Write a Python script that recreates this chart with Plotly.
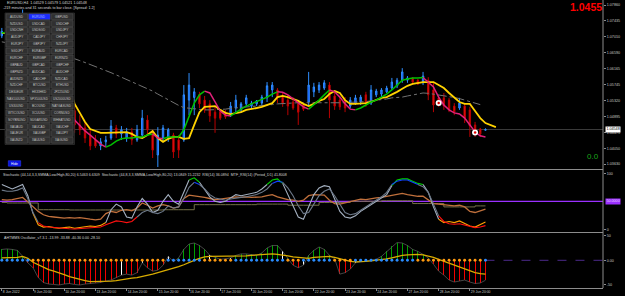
import plotly.graph_objects as go

# ---------------- DATA (EURUSD H4, 8 Jun 20:00 -> 30 Jun 08:00) ----------------
opens = [1.0704, 1.0716, 1.0706, 1.0712, 1.0735, 1.0745, 1.0660, 1.0620, 1.0625, 1.0630,
         1.0605, 1.0590, 1.0525, 1.0518, 1.0505, 1.0467, 1.0459, 1.0438, 1.0427, 1.0411,
         1.0422, 1.0432, 1.0459, 1.0443, 1.0432, 1.0448, 1.0427, 1.0440, 1.0480, 1.0448,
         1.0387, 1.0432, 1.0432, 1.0440, 1.0427, 1.0427, 1.0533, 1.0540, 1.0547, 1.0533,
         1.0523, 1.0501, 1.0501, 1.0501, 1.0493, 1.0512, 1.0507, 1.0523, 1.0517, 1.0523,
         1.0525, 1.0539, 1.0560, 1.0560, 1.0544, 1.0533, 1.0528, 1.0523, 1.0520, 1.0528,
         1.0555, 1.0560, 1.0565, 1.0573, 1.0544, 1.0533, 1.0533, 1.0517, 1.0525, 1.0528,
         1.0547, 1.0525, 1.0547, 1.0549, 1.0555, 1.0565, 1.0571, 1.0586, 1.0586, 1.0592,
         1.0586, 1.0579, 1.0586, 1.0560, 1.0539, 1.0539, 1.0533, 1.0517, 1.0512, 1.0517,
         1.0507, 1.0467, 1.0456, 1.04529]
highs = [1.0725, 1.0722, 1.0718, 1.0740, 1.0774, 1.0760, 1.0670, 1.0635, 1.0640, 1.0640,
         1.0620, 1.0600, 1.0545, 1.0525, 1.0525, 1.0493, 1.0472, 1.0454, 1.0440, 1.0432,
         1.0438, 1.0480, 1.0467, 1.0464, 1.0459, 1.0459, 1.0467, 1.0507, 1.0493, 1.0454,
         1.0461, 1.0467, 1.0459, 1.0446, 1.0440, 1.0573, 1.0605, 1.0565, 1.0555, 1.0544,
         1.0533, 1.0515, 1.0507, 1.0507, 1.0528, 1.0547, 1.0528, 1.0547, 1.0531, 1.0533,
         1.0547, 1.0581, 1.0581, 1.0565, 1.0552, 1.0547, 1.0541, 1.0533, 1.0523, 1.0608,
         1.0579, 1.0581, 1.0586, 1.0581, 1.0555, 1.0541, 1.0541, 1.0541, 1.0547, 1.0547,
         1.0555, 1.0573, 1.0563, 1.0565, 1.0571, 1.0592, 1.0592, 1.0618, 1.0597, 1.0594,
         1.0589, 1.0608, 1.0594, 1.0579, 1.0544, 1.0552, 1.0539, 1.0525, 1.0539, 1.0525,
         1.0515, 1.0475, 1.0459, 1.04579]
lows = [1.0698, 1.0700, 1.0698, 1.0705, 1.0700, 1.0650, 1.0615, 1.0610, 1.0615, 1.0595,
        1.0580, 1.0506, 1.0510, 1.0500, 1.0446, 1.0440, 1.0419, 1.0400, 1.0406, 1.0400,
        1.0411, 1.0427, 1.0432, 1.0427, 1.0422, 1.0414, 1.0422, 1.0432, 1.0440, 1.0379,
        1.0355, 1.0422, 1.0422, 1.0379, 1.0379, 1.0422, 1.0493, 1.0493, 1.0512, 1.0499,
        1.0475, 1.0446, 1.0480, 1.0483, 1.0488, 1.0501, 1.0499, 1.0515, 1.0512, 1.0517,
        1.0517, 1.0528, 1.0541, 1.0525, 1.0515, 1.0493, 1.0507, 1.0467, 1.0504, 1.0520,
        1.0541, 1.0552, 1.0560, 1.0485, 1.0507, 1.0507, 1.0501, 1.0512, 1.0520, 1.0520,
        1.0515, 1.0520, 1.0541, 1.0541, 1.0552, 1.0560, 1.0565, 1.0579, 1.0579, 1.0576,
        1.0573, 1.0573, 1.0533, 1.0501, 1.0515, 1.0507, 1.0501, 1.0493, 1.0507, 1.0472,
        1.0435, 1.0435, 1.0435, 1.04521]
closes = [1.0716, 1.0706, 1.0712, 1.0735, 1.0745, 1.0660, 1.0620, 1.0625, 1.0630, 1.0605,
          1.0590, 1.0525, 1.0518, 1.0505, 1.0467, 1.0454, 1.0432, 1.0411, 1.0411, 1.0422,
          1.0427, 1.0464, 1.0443, 1.0454, 1.0448, 1.0427, 1.0454, 1.0485, 1.0454, 1.0400,
          1.0440, 1.0459, 1.0454, 1.0395, 1.0400, 1.0547, 1.0573, 1.0555, 1.0523, 1.0507,
          1.0491, 1.0485, 1.0485, 1.0488, 1.0517, 1.0533, 1.0523, 1.0539, 1.0525, 1.0531,
          1.0541, 1.0571, 1.0573, 1.0539, 1.0523, 1.0517, 1.0512, 1.0501, 1.0509, 1.0573,
          1.0568, 1.0573, 1.0579, 1.0533, 1.0517, 1.0515, 1.0512, 1.0533, 1.0539, 1.0541,
          1.0523, 1.0560, 1.0557, 1.0560, 1.0565, 1.0581, 1.0586, 1.0608, 1.0592, 1.0581,
          1.0576, 1.0597, 1.0547, 1.0520, 1.0523, 1.0517, 1.0507, 1.0501, 1.0525, 1.0485,
          1.0464, 1.0448, 1.0443, 1.04548]

ma_fast = [1.0712, 1.0713, 1.0712, 1.0716, 1.0722, 1.0705, 1.0680, 1.0660, 1.0645, 1.0630,
           1.0615, 1.0580, 1.0550, 1.0520, 1.0480, 1.0464, 1.0451, 1.0440, 1.0427, 1.0416,
           1.0408, 1.0414, 1.0424, 1.0430, 1.0432, 1.0432, 1.0435, 1.0435, 1.0440, 1.0443,
           1.0432, 1.0430, 1.0435, 1.0435, 1.0435, 1.0454, 1.0491, 1.0525, 1.0547, 1.0557,
           1.0552, 1.0528, 1.0504, 1.0493, 1.0491, 1.0501, 1.0509, 1.0517, 1.0523, 1.0528,
           1.0533, 1.0541, 1.0549, 1.0555, 1.0554, 1.0547, 1.0536, 1.0525, 1.0515, 1.0509,
           1.0520, 1.0533, 1.0547, 1.0560, 1.0555, 1.0541, 1.0523, 1.0509, 1.0507, 1.0512,
           1.0520, 1.0528, 1.0533, 1.0541, 1.0549, 1.0560, 1.0573, 1.0586, 1.0589, 1.0592,
           1.0592, 1.0593, 1.0581, 1.0568, 1.0541, 1.0520, 1.0507, 1.0499, 1.0496, 1.0485,
           1.0467, 1.0448, 1.0438, 1.0435]
ma_slow = [1.0712, 1.0710, 1.0710, 1.0712, 1.0716, 1.0712, 1.0700, 1.0688, 1.0676, 1.0663,
           1.0648, 1.0625, 1.0600, 1.0565, 1.0523, 1.0499, 1.0475, 1.0456, 1.0451, 1.0446,
           1.0446, 1.0446, 1.0448, 1.0448, 1.0448, 1.0443, 1.0435, 1.0432, 1.0440, 1.0451,
           1.0432, 1.0422, 1.0430, 1.0435, 1.0435, 1.0430, 1.0432, 1.0467, 1.0501, 1.0515,
           1.0517, 1.0517, 1.0507, 1.0499, 1.0496, 1.0499, 1.0501, 1.0507, 1.0509, 1.0512,
           1.0515, 1.0520, 1.0525, 1.0541, 1.0544, 1.0541, 1.0536, 1.0531, 1.0523, 1.0517,
           1.0523, 1.0531, 1.0536, 1.0549, 1.0557, 1.0552, 1.0533, 1.0523, 1.0523, 1.0523,
           1.0525, 1.0528, 1.0533, 1.0539, 1.0541, 1.0547, 1.0555, 1.0563, 1.0571, 1.0576,
           1.0579, 1.0581, 1.0581, 1.0581, 1.0573, 1.0565, 1.0552, 1.0539, 1.0528, 1.0523,
           1.0523, 1.0504, 1.0485, 1.0472, 1.0467, 1.0461]
ma_long = [1.0688, 1.0685, 1.0682, 1.0680, 1.0677, 1.0674, 1.0672, 1.0669, 1.0666, 1.0664,
           1.0658, 1.0656, 1.0653, 1.0648, 1.0644, 1.0638, 1.0633, 1.0628, 1.0622, 1.0617,
           1.0612, 1.0606, 1.0600, 1.0594, 1.0589, 1.0582, 1.0577, 1.0571, 1.0564, 1.0557,
           1.0549, 1.0541, 1.0533, 1.0525, 1.0519, 1.0513, 1.0511, 1.0509, 1.0508, 1.0507,
           1.0507, 1.0507, 1.0508, 1.0509, 1.0511, 1.0512, 1.0513, 1.0515, 1.0516, 1.0517,
           1.0519, 1.0520, 1.0521, 1.0523, 1.0524, 1.0525, 1.0525, 1.0526, 1.0526, 1.0526,
           1.0526, 1.0526, 1.0526, 1.0525, 1.0525, 1.0526, 1.0526, 1.0527, 1.0527, 1.0528,
           1.0529, 1.0531, 1.0532, 1.0533, 1.0536, 1.0539, 1.0540, 1.0541, 1.0544, 1.0547,
           1.0549, 1.0552, 1.0551, 1.0549, 1.0547, 1.0545, 1.0543, 1.0540, 1.0537, 1.0533,
           1.0529, 1.0525, 1.0521]
fractal_bars = [84, 91]
fractal_prices = [1.0525, 1.0447]
last_price = 1.04548

stoch_44_14 = [70, 68, 68, 70, 74, 55, 30, 12, 6, 4,
               3, 2, 1, 1, 0.5, 1, 2, 3, 3, 4,
               8, 12, 15, 14, 12, 14, 22, 30, 34, 30,
               28, 32, 42, 38, 40, 55, 75, 84, 80, 72,
               62, 56, 54, 52, 54, 56, 57, 58, 60, 62,
               66, 72, 82, 86, 84, 74, 60, 42, 28, 30,
               45, 60, 68, 72, 60, 44, 30, 26, 28, 34,
               40, 46, 52, 58, 66, 80, 86, 88, 88, 84,
               80, 76, 66, 46, 24, 14, 10, 9, 10, 8,
               5, 3, 4, 6.5463]
stoch_44_8 = [80, 76, 72, 76, 80, 60, 28, 8, 4, 5,
              3, 2, 3, 4, 2, 3, 5, 6, 5, 7,
              12, 35, 45, 40, 22, 20, 40, 55, 45, 30,
              34, 50, 62, 50, 45, 68, 88, 92, 84, 72,
              58, 50, 48, 50, 56, 62, 60, 62, 64, 66,
              72, 80, 88, 90, 82, 62, 40, 22, 18, 40,
              62, 74, 78, 76, 55, 32, 22, 20, 24, 32,
              38, 44, 50, 56, 62, 78, 88, 90, 90, 86,
              82, 80, 66, 40, 18, 12, 14, 12, 15, 10,
              6, 4, 9, 13.0849]
rsi14 = [53, 52, 53, 55, 57, 49, 40, 32, 26, 23,
         22, 21, 20, 21, 20, 21, 19, 18, 17, 18,
         28, 32, 30, 34, 35, 33, 38, 47, 43, 38,
         42, 44, 42, 38, 40, 55, 61, 60, 58, 57,
         55, 53, 54, 55, 57, 58, 57, 58, 57, 57,
         58, 60, 62, 58, 55, 53, 52, 50, 52, 60,
         62, 61, 61, 52, 46, 45, 47, 50, 52, 54,
         53, 55, 56, 57, 59, 60, 62, 64, 62, 60,
         59, 59, 52, 46, 45, 44, 42, 42, 43, 40,
         32, 30, 33, 36.0894]
mtf_rsi_daily = [48, 47, 35, 34.5, 34.5, 34.5, 35, 44, 44, 45, 43, 48, 50, 51, 46, 40, 41.8008]
mtf_rsi_bars_per_day = [1] + [6] * 15 + [3]

osc_hist = [22, 23, 22, 20, 8, -5, -15, -35, -45, -48,
            -49, -50, -48, -47, -49, -50, -48, -47, -46, -45,
            -42, -40, -35, -30, -28, -30, -25, -5, -15, -22,
            -20, -10, 8, -3, 5, 22, 33, 35, 30, 22,
            10, 6, 2, 3, 5, 10, 13, 13, 12, 10,
            15, 25, 30, 30, 18, 5, -10, -15, -10, 10,
            20, 27, 22, 10, 3, -28, -25, -18, -5, -3,
            -2, 1, 2, 8, 18, 28, 36, 35, 30, 22,
            18, 12, 5, -8, -22, -30, -40, -44, -42, -40,
            -44, -47, -46, -40.36]
osc_signal = [5, 5, 5, 6, 8, 4, -4, -9, -14, -19,
              -22, -25, -29, -33, -36, -39, -41, -43, -43, -43,
              -43, -42, -41, -39, -38, -36, -35, -33, -31, -28,
              -25, -22, -20, -16, -13, -9, -4, 0, 4, 7,
              8, 8, 8, 8, 8, 8, 9, 9, 10, 11,
              12, 12, 13, 12, 11, 9, 7, 6, 4, 4,
              6, 7, 8, 8, 6, 3, 0, -2, -3, -3,
              -2, -1, 0, 1, 3, 5, 8, 10, 11, 12,
              12, 11, 9, 6, 2, -2, -6, -10, -14, -18,
              -22, -25, -27, -28.10]
osc_white_bars = [23, 27, 32, 40, 44, 54, 58, 68]
osc_dot_runs = [("up", 6), ("dn", 26), ("up", 7), ("dn", 6), ("up", 10), ("dn", 3),
                ("up", 6), ("dn", 4), ("up", 12), ("dn", 13), ("up", 1)]

tick_bars = list(range(0, 91, 6))
tick_labels = ["8 Jun 2022", "9 Jun 20:00", "10 Jun 20:00", "13 Jun 20:00", "14 Jun 20:00",
               "15 Jun 20:00", "16 Jun 20:00", "17 Jun 20:00", "20 Jun 20:00", "21 Jun 20:00",
               "22 Jun 20:00", "23 Jun 20:00", "24 Jun 20:00", "27 Jun 20:00", "28 Jun 20:00",
               "29 Jun 20:00"]
price_ticks = [1.07860, 1.07435, 1.07010, 1.06590, 1.06165, 1.05745, 1.05320, 1.04895,
               1.04475, 1.04050, 1.03630]
symbols = [["AUDUSD", "EURUSD", "GBPUSD"], ["NZDUSD", "USDCAD", "USDCHF"],
           ["USDCNH", "USDSGD", "USDJPY"], ["AUDJPY", "CADJPY", "CHFJPY"],
           ["EURJPY", "GBPJPY", "NZDJPY"], ["SGDJPY", "EURAUD", "EURCAD"],
           ["EURCHF", "EURGBP", "EURNZD"], ["GBPAUD", "GBPCAD", "GBPCHF"],
           ["GBPNZD", "AUDCAD", "AUDCHF"], ["AUDNZD", "CADCHF", "NZDCAD"],
           ["NZDCHF", "BTCUSD", "ETHUSD"], ["DE30EUR", "HK33HKD", "JP225USD"],
           ["NAS100USD", "SPX500USD", "US2000USD"], ["US30USD", "BCOUSD", "NATGASUSD"],
           ["WTICOUSD", "XCUUSD", "CORNUSD"], ["SOYBNUSD", "SUGARUSD", "WHEATUSD"],
           ["XAUAUD", "XAUCAD", "XAUCHF"], ["XAUEUR", "XAUGBP", "XAUJPY"],
           ["XAUNZD", "XAUUSD", "XAGUSD"]]
active_symbol = "EURUSD"

# ---------------- FIGURE ----------------
FONT = "Liberation Sans, Arial, sans-serif"
PLOT_W, PLOT_H = 603, 288
X_MAX = 115.6


def fx(p):
    return p / PLOT_W


def fy(p):
    return 1 - p / PLOT_H


n = len(closes)
bars = list(range(n))
fig = go.Figure()

# main pane
fig.add_trace(go.Scatter(x=list(range(len(ma_long))), y=ma_long, mode="lines",
                         line=dict(color="#727272", width=1, dash="dashdot"), hoverinfo="skip"))
fig.add_trace(go.Candlestick(x=bars, open=opens, high=highs, low=lows, close=closes,
                             increasing=dict(line=dict(color="#2f8fff", width=1), fillcolor="#0a3cff"),
                             decreasing=dict(line=dict(color="#b80000", width=1), fillcolor="#ff1a1a"),
                             whiskerwidth=0, hoverinfo="skip"))
fig.add_trace(go.Scatter(x=list(range(len(ma_slow))), y=ma_slow, mode="lines",
                         line=dict(color="#ffd200", width=1.8), hoverinfo="skip"))


def add_colored_line(xs, ys, color_of, width, yaxis):
    start = 0
    cur = color_of(1)
    for i in range(2, len(ys)):
        c = color_of(i)
        if c != cur:
            fig.add_trace(go.Scatter(x=xs[start:i], y=ys[start:i], mode="lines",
                                     line=dict(color=cur, width=width), yaxis=yaxis, hoverinfo="skip"))
            start = i - 1
            cur = c
    fig.add_trace(go.Scatter(x=xs[start:], y=ys[start:], mode="lines",
                             line=dict(color=cur, width=width), yaxis=yaxis, hoverinfo="skip"))


add_colored_line(bars, ma_fast, lambda i: "#00c000" if ma_fast[i] >= ma_fast[i - 1] else "#e0207a", 1.5, "y")

fig.add_trace(go.Scatter(x=fractal_bars, y=fractal_prices, mode="markers",
                         marker=dict(color="white", size=6, line=dict(width=0)), hoverinfo="skip"))
fig.add_trace(go.Scatter(x=fractal_bars, y=fractal_prices, mode="markers",
                         marker=dict(color="#e00000", size=2.5), hoverinfo="skip"))

# stochastic pane
mtf_rsi = []
for v, k in zip(mtf_rsi_daily, mtf_rsi_bars_per_day):
    mtf_rsi += [v] * k
fig.add_trace(go.Scatter(x=bars, y=mtf_rsi, mode="lines", line=dict(color="#747048", width=1, shape="hv"),
                         yaxis="y2", hoverinfo="skip"))
fig.add_trace(go.Scatter(x=bars, y=rsi14, mode="lines", line=dict(color="#c0703c", width=1.3),
                         yaxis="y2", hoverinfo="skip"))


def zone_color(vals, low, base, high):
    def f(i):
        m = (vals[i] + vals[i - 1]) / 2
        return low if m < 20 else (high if m > 80 else base)
    return f


add_colored_line(bars, stoch_44_8, zone_color(stoch_44_8, "#ffa000", "#a4b0c0", "#00d000"), 1.1, "y2")
add_colored_line(bars, stoch_44_14, zone_color(stoch_44_14, "#ff1010", "#6c7888", "#1040ff"), 1.1, "y2")

# oscillator pane
hist_colors = []
for i, v in enumerate(osc_hist):
    if i in osc_white_bars:
        hist_colors.append("#ffffff")
    else:
        hist_colors.append("#00a000" if v >= 0 else "#f00000")
fig.add_trace(go.Bar(x=bars, y=osc_hist, width=0.2, marker=dict(color=hist_colors, line=dict(width=0)),
                     yaxis="y3", hoverinfo="skip"))
fig.add_trace(go.Scatter(x=bars, y=osc_hist, mode="lines", line=dict(color="#555555", width=0.8),
                         yaxis="y3", hoverinfo="skip"))
fig.add_trace(go.Scatter(x=bars, y=osc_signal, mode="lines", line=dict(color="#d8ac00", width=1.3),
                         yaxis="y3", hoverinfo="skip"))
dot_colors = []
for state, k in osc_dot_runs:
    dot_colors += ["#2a8cff" if state == "up" else "#ff9a10"] * k
fig.add_trace(go.Scatter(x=bars, y=[0] * n, mode="markers", marker=dict(color=dot_colors, size=2.9),
                         yaxis="y3", hoverinfo="skip"))

# ---------------- LAYOUT ----------------
tickfont = dict(size=3.7, color="#c8c8c8", family=FONT)
common_y = dict(side="right", anchor="x", showgrid=False, zeroline=False, ticks="outside", ticklen=2,
                tickcolor="#8a8a8a", tickfont=tickfont, showline=False, fixedrange=True)

shapes = [
    dict(type="line", xref="paper", x0=0, x1=1, yref="y", y0=last_price, y1=last_price,
         line=dict(color="#3a3a3a", width=1), layer="below"),
    dict(type="line", xref="paper", x0=0, x1=1, yref="y2", y0=50, y1=50,
         line=dict(color="#9b30ff", width=1.3), layer="below"),
    dict(type="line", xref="x", x0=n - 1, x1=X_MAX, yref="y3", y0=0, y1=0,
         line=dict(color="#4b2a8a", width=1, dash="dash"), layer="below"),
]
for yy in (169.5, 232.5):
    shapes.append(dict(type="line", xref="paper", x0=0, x1=1, yref="paper", y0=fy(yy), y1=fy(yy),
                       line=dict(color="#8c8c8c", width=1)))
shapes.append(dict(type="line", xref="paper", x0=1, x1=1, yref="paper", y0=0, y1=1,
                   line=dict(color="#8c8c8c", width=1)))

annotations = []
# symbol panel
shapes.append(dict(type="rect", xref="paper", yref="paper", x0=fx(5), x1=fx(74.5), y0=fy(13), y1=fy(144.5),
                   fillcolor="#161616", line=dict(color="#3a3a3a", width=0.6), layer="above"))
col_x = [6, 28.7, 51.6]
for r, row in enumerate(symbols):
    cy = 16.7 + 6.87 * r
    for c, sym in enumerate(row):
        active = sym == active_symbol
        shapes.append(dict(type="rect", xref="paper", yref="paper", x0=fx(col_x[c]), x1=fx(col_x[c] + 21.5),
                           y0=fy(cy - 2.9), y1=fy(cy + 2.9),
                           fillcolor="#1a2cff" if active else "#303030",
                           line=dict(color="#5a5a5a", width=0.5), layer="above"))
        annotations.append(dict(xref="paper", yref="paper", x=fx(col_x[c] + 10.75), y=fy(cy), text=sym,
                                showarrow=False, xanchor="center", yanchor="middle",
                                font=dict(size=3.1, color="#9fb4ff" if active else "#c4c4c4", family=FONT)))
shapes.append(dict(type="rect", xref="paper", yref="paper", x0=fx(8.3), x1=fx(20.7), y0=fy(160.7), y1=fy(166.2),
                   fillcolor="#0a14e0", line=dict(color="#3040ff", width=0.5), layer="above"))
annotations.append(dict(xref="paper", yref="paper", x=fx(14.5), y=fy(163.5), text="Hide", showarrow=False,
                        xanchor="center", yanchor="middle", font=dict(size=3.4, color="white", family=FONT)))


def label(x, y, text, size=3.7, color="#d4d4d4", anchor="left"):
    annotations.append(dict(xref="paper", yref="paper", x=fx(x), y=fy(y), text=text, showarrow=False,
                            xanchor=anchor, yanchor="middle", font=dict(size=size, color=color, family=FONT),
                            borderpad=0))


label(6, 3, "EURUSD,H4  1.04529 1.04579 1.04521 1.04548")
label(2, 7.8, "-219 minutes and 31 seconds to bar close. [Spread: 1.2]")
label(603, 6.8, "<b>1.0455</b>", size=10.5, color="#ff0000", anchor="right")
label(586, 156.5, "0.0", size=8, color="#1aa51a")
label(2, 175.3, "Stochastic (44,14,3,3,SMMA,Low/High,80,20) 6.5463 6.6309  Stochastic (44,8,3,3,SMMA,Low/High,80,20) "
      "13.0849 15.2232  RSI(14) 36.0894  MTF_RSI(14) (Period_D1) 41.8008", size=3.6)
label(3, 237.5, "AHTMMS Oscillator_v7.3.1 -13.99 -33.88 -40.36 0.00 -28.10", size=3.6)

annotations.append(dict(xref="paper", yref="y", x=1, y=last_price, text="1.04548", showarrow=False,
                        xanchor="left", yanchor="middle", xshift=1.5, bgcolor="#ffffff", borderpad=0.4,
                        font=dict(size=3.7, color="#000000", family=FONT)))
annotations.append(dict(xref="paper", yref="y2", x=1, y=50, text="50.0000", showarrow=False,
                        xanchor="left", yanchor="middle", xshift=1.5, bgcolor="#9b30ff", borderpad=0.4,
                        font=dict(size=3.7, color="#e8d8ff", family=FONT)))

fig.update_layout(
    width=625, height=296, margin=dict(l=0, r=22, t=0, b=8, pad=0),
    paper_bgcolor="#000000", plot_bgcolor="#000000", showlegend=False, boxgap=0.62, bargap=0,
    xaxis=dict(domain=[0, 1], range=[-0.35, X_MAX], anchor="y3", showgrid=False, zeroline=False,
               tickvals=tick_bars, ticktext=tick_labels, ticks="outside", ticklen=2, tickcolor="#8a8a8a",
               ticklabelposition="outside right", tickfont=dict(size=3.4, color="#c8c8c8", family=FONT),
               showline=True, linecolor="#8c8c8c", linewidth=1, rangeslider=dict(visible=False),
               fixedrange=True),
    yaxis=dict(domain=[1 - 168 / 288, 1], range=[1.03524, 1.07993], tickvals=price_ticks,
               ticktext=[f"{v:.5f}" for v in price_ticks], **common_y),
    yaxis2=dict(domain=[1 - 232 / 288, 1 - 170 / 288], range=[-4.8, 105.9], tickvals=[0, 100],
                ticktext=["0", "100"], **common_y),
    yaxis3=dict(domain=[0, 1 - 233 / 288], range=[-56.1, 55.3], tickvals=[-50, 0, 50],
                ticktext=["-50", "0.00", "50"], **common_y),
    shapes=shapes, annotations=annotations,
)

fig.write_html("out.html", config={"displayModeBar": False, "staticPlot": True})
